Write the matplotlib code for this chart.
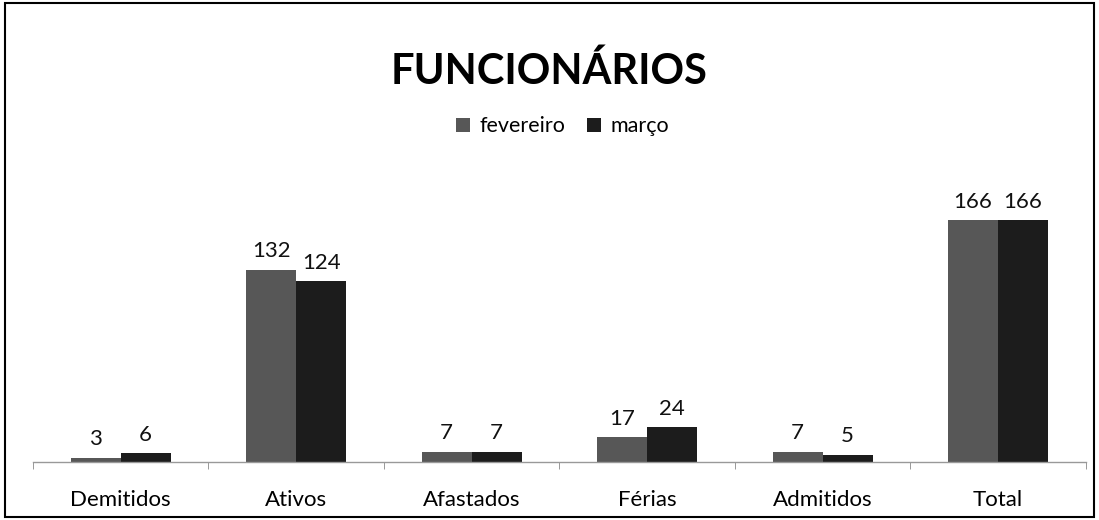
import matplotlib
matplotlib.use("Agg")
import matplotlib.pyplot as plt
import numpy as np
from matplotlib.patches import Rectangle

categories = ["Demitidos", "Ativos", "Afastados", "Férias", "Admitidos", "Total"]
series_names = ["fevereiro", "março"]
fevereiro = [3, 132, 7, 17, 7, 166]
marco = [6, 124, 7, 24, 5, 166]

plt.rcParams['font.family'] = ['Lato', 'DejaVu Sans']

fig = plt.figure(figsize=(10.99, 5.20), dpi=100)
ax = fig.add_axes([0.030, 0.1115, 0.958, 0.5608])

x = np.arange(len(categories))
w = 0.285
colors = ["#575757", "#1c1c1c"]
b1 = ax.bar(x - w/2, fevereiro, w, color=colors[0], label=series_names[0])
b2 = ax.bar(x + w/2, marco, w, color=colors[1], label=series_names[1])
for bars in (b1, b2):
    ax.bar_label(bars, padding=6, fontsize=16, color="#111111")

ax.set_xlim(-0.5, len(categories) - 0.5)
ax.set_ylim(0, 200)
ax.set_yticks([])
ax.set_xticks(x)
ax.set_xticklabels(categories, fontsize=16)
ax.tick_params(axis='x', which='major', length=0, pad=20)
ax.set_xticks(np.arange(len(categories) + 1) - 0.5, minor=True)
ax.tick_params(axis='x', which='minor', length=5, color="#888888")
for s in ("top", "right", "left"):
    ax.spines[s].set_visible(False)
ax.spines["bottom"].set_color("#999999")
ax.spines["bottom"].set_linewidth(1.0)

fig.text(0.4995, 0.863, "FUNCIONÁRIOS", ha="center", va="center", fontsize=30, fontweight="bold")
fig.legend(handles=[b1, b2], labels=series_names, loc="center", bbox_to_anchor=(0.512, 0.757),
           ncol=2, frameon=False, fontsize=15.5, handlelength=0.65, handleheight=0.65,
           handletextpad=0.45, columnspacing=1.0)

fig.add_artist(Rectangle((0.005, 0.005), 0.99, 0.99, transform=fig.transFigure,
                         fill=False, edgecolor="black", linewidth=1.5))

fig.savefig("out.png", dpi=100)
